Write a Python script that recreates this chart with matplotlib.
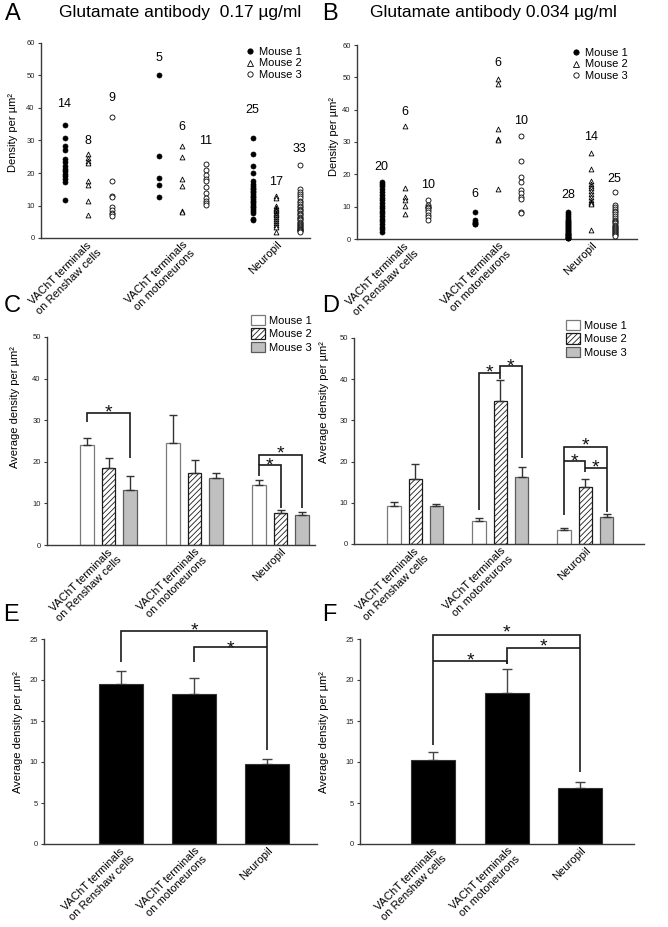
import matplotlib
matplotlib.use('Agg')
import matplotlib.pyplot as plt
from matplotlib.patches import Patch
from matplotlib.lines import Line2D

plt.rcParams['font.family'] = ['Liberation Sans', 'DejaVu Sans']
plt.rcParams['hatch.linewidth'] = 0.6

W, H = 668, 927
fig = plt.figure(figsize=(W / 100, H / 100), dpi=100)

# ---------------- data ----------------
categories = ["VAChT terminals\non Renshaw cells", "VAChT terminals\non motoneurons", "Neuropil"]
mice = ["Mouse 1", "Mouse 2", "Mouse 3"]

# Panel A: individual densities (0.17 ug/ml), per group
a_mouse1 = [
    [34.8, 30.8, 28.3, 27.2, 24.3, 23.5, 22.0, 21.2, 20.5, 19.8, 19.0, 18.2, 17.3, 11.8],
    [50.0, 25.3, 18.5, 16.4, 12.5],
    [30.7, 25.9, 22.3, 20.0, 17.6, 16.6, 16.0, 15.5, 15.0, 14.5, 14.0, 13.5, 13.0, 12.5,
     12.0, 11.5, 11.0, 10.5, 10.0, 9.5, 9.0, 8.3, 7.8, 6.0, 5.5],
]
a_mouse2 = [
    [25.7, 24.6, 23.8, 23.2, 17.6, 16.3, 11.3, 7.0],
    [28.3, 24.8, 18.0, 16.0, 8.4, 8.0],
    [13.0, 12.3, 9.8, 9.3, 9.0, 8.5, 8.2, 7.8, 7.4, 7.0, 6.5, 6.0, 5.3, 4.5, 4.0, 3.5, 1.7],
]
a_mouse3 = [
    [37.3, 17.4, 13.0, 12.5, 9.5, 8.6, 7.8, 7.3, 6.8],
    [22.7, 20.8, 19.5, 18.3, 17.5, 15.7, 13.8, 12.3, 11.5, 10.9, 10.3],
    [22.6, 15.0, 14.2, 13.5, 12.8, 12.2, 11.5, 11.0, 10.5, 10.0, 9.5, 9.0, 8.6, 8.2, 7.8,
     7.4, 7.0, 6.6, 6.2, 5.8, 5.4, 5.0, 4.6, 4.2, 3.9, 3.6, 3.3, 3.0, 2.8, 2.6, 2.4, 2.2, 2.0],
]
a_count_y = [[41.2, 55.4, 39.4], [30.0, 34.0, 17.3], [43.0, 30.0, 27.4]]

# Panel B: individual densities (0.034 ug/ml)
b_mouse1 = [
    [17.5, 17.0, 16.3, 15.5, 14.5, 13.6, 12.8, 12.0, 11.0, 10.2, 9.5, 8.7, 7.9, 7.1, 6.3,
     5.5, 4.7, 3.8, 3.0, 2.3],
    [8.5, 5.8, 5.3, 5.0, 4.7, 4.5],
    [8.5, 7.8, 7.0, 6.5, 6.0, 5.6, 5.2, 4.8, 4.5, 4.2, 3.9, 3.6, 3.3, 3.0, 2.7, 2.4, 2.1,
     1.9, 1.7, 1.5, 1.3, 1.1, 0.9, 0.7, 0.5, 0.4, 0.3, 0.2],
]
b_mouse2 = [
    [34.8, 15.7, 13.0, 12.2, 10.2, 7.8],
    [49.5, 47.8, 34.0, 31.0, 30.6, 15.5],
    [26.7, 21.5, 18.0, 17.0, 16.5, 15.8, 15.0, 14.0, 13.0, 12.0, 11.5, 11.2, 10.8, 2.8],
]
b_mouse3 = [
    [12.0, 10.5, 10.0, 9.8, 9.5, 9.0, 8.5, 7.3, 6.7, 5.8],
    [31.8, 24.2, 19.3, 17.5, 15.2, 14.3, 13.0, 12.5, 8.5, 8.0],
    [14.4, 10.5, 9.8, 9.3, 8.8, 8.2, 7.6, 7.0, 6.5, 6.0, 5.6, 5.2, 4.8, 4.4, 4.0, 3.6,
     3.3, 3.0, 2.7, 2.4, 2.1, 1.8, 1.5, 1.2, 1.0],
]
b_count_y = [[22.3, 14.0, 13.7], [39.2, 54.4, 31.4], [16.7, 36.4, 18.6]]

# Panel C: mean and SEM per mouse (0.17 ug/ml)
c_means = [[24.0, 24.6, 14.4], [18.6, 17.2, 7.7], [13.3, 16.1, 7.2]]
c_sem = [[1.7, 6.7, 1.3], [2.4, 3.3, 0.7], [3.2, 1.2, 0.7]]

# Panel D: mean and SEM per mouse (0.034 ug/ml)
d_means = [[9.2, 5.6, 3.5], [15.7, 34.7, 13.9], [9.2, 16.3, 6.6]]
d_sem = [[0.9, 0.6, 0.5], [3.8, 5.1, 1.8], [0.6, 2.3, 0.8]]

# Panels E, F: pooled means and SEM
e_means = [19.56, 18.35, 9.7]
e_sem = [1.55, 1.85, 0.65]
f_means = [10.24, 18.37, 6.83]
f_sem = [0.95, 2.95, 0.7]

# significance brackets: (x1, x2, top, left_end, right_end, star_y)
c_brackets = [(-0.25, 0.25, 31.8, 29.5, 21.0, 33.2),
              (1.75, 2.0, 19.2, 16.5, 9.0, 20.4),
              (1.75, 2.25, 21.6, 19.2, 9.0, 23.4)]
d_brackets = [(0.75, 1.0, 41.6, 8.2, 40.0, 43.0),
              (1.0, 1.25, 43.2, 41.6, 20.9, 44.4),
              (1.75, 2.25, 23.6, 7.0, 7.8, 25.2),
              (1.75, 2.0, 20.1, 20.1, 17.5, 21.4),
              (2.0, 2.25, 18.5, 18.5, 18.5, 19.9)]
e_brackets = [(0, 2, 26.0, 22.2, 11.5, 26.7),
              (1, 2, 24.0, 22.2, 24.0, 24.6)]
f_brackets = [(0, 2, 25.5, 12.1, 8.8, 26.5),
              (0, 1, 22.3, 22.3, 22.0, 23.1),
              (1, 2, 23.9, 22.0, 23.9, 24.8)]

# ---------------- helpers ----------------
SPINE = '#3a3a3a'


def add_ax(x0, y0, x1, y1):
    return fig.add_axes([x0 / W, 1 - y1 / H, (x1 - x0) / W, (y1 - y0) / H])


def style(ax, ymax, step, xlim):
    for s in ['top', 'right']:
        ax.spines[s].set_visible(False)
    for s in ['left', 'bottom']:
        ax.spines[s].set_color(SPINE)
        ax.spines[s].set_linewidth(1.0)
    ax.set_xlim(*xlim)
    ax.set_ylim(0, ymax)
    ax.set_yticks(list(range(0, ymax + 1, step)))
    ax.tick_params(axis='y', labelsize=5.5, length=2.5, width=0.8, pad=2,
                   colors=SPINE, labelcolor='#222222')
    ax.set_xticks([0, 1, 2])
    ax.set_xticklabels(categories, rotation=45, ha='right', va='top',
                       rotation_mode='anchor', fontsize=8, multialignment='center')
    ax.tick_params(axis='x', length=0, pad=1)


def ylabel(ax, text, xpx, ypx, axbox):
    x0, y0, x1, y1 = axbox
    ax.set_ylabel(text, fontsize=8)
    ax.yaxis.set_label_coords((xpx - x0) / (x1 - x0), (y1 - ypx) / (y1 - y0))


def letter(txt, xpx, ypx):
    fig.text(xpx / W, 1 - ypx / H, txt, fontsize=17, ha='center', va='center')


def star(ax, x, y, fs=14):
    ax.annotate('*', (x, y), xytext=(0, -0.55 * fs), textcoords='offset points',
                ha='center', va='baseline', fontsize=fs, color='#111111',
                annotation_clip=False)


def brackets(ax, blist):
    for x1, x2, top, yl, yr, sy in blist:
        ax.plot([x1, x1, x2, x2], [yl, top, top, yr], color='#1a1a1a', lw=1.2,
                solid_joinstyle='miter', solid_capstyle='butt', clip_on=False)
        star(ax, (x1 + x2) / 2, sy)


# ---------------- panels A, B: scatter ----------------
def scatter_panel(box, xlim, m1, m2, m3, county, title, title_x, lg_xy, ylab_xy):
    ax = add_ax(*box)
    style(ax, 60, 10, xlim)
    offs = [-0.25, 0.0, 0.25]
    kws = [dict(marker='o', s=13, facecolor='black', edgecolor='black', linewidths=0.5),
           dict(marker='^', s=12, facecolor='white', edgecolor='black', linewidths=0.6),
           dict(marker='o', s=13, facecolor='white', edgecolor='black', linewidths=0.6)]
    for mi, series in enumerate([m1, m2, m3]):
        for g, vals in enumerate(series):
            ax.scatter([g + offs[mi]] * len(vals), vals, zorder=3, clip_on=False, **kws[mi])
            ax.text(g + offs[mi], county[mi][g], str(len(vals)), ha='center', va='center',
                    fontsize=9)
    handles = [Line2D([], [], ls='none', markersize=3.8, markeredgewidth=0.6,
                      markeredgecolor='black', **k) for k in
               [dict(marker='o', markerfacecolor='black'),
                dict(marker='^', markerfacecolor='white'),
                dict(marker='o', markerfacecolor='white')]]
    ax.legend(handles, mice, loc='upper left', bbox_to_anchor=(lg_xy[0] / W, 1 - lg_xy[1] / H),
              bbox_transform=fig.transFigure, frameon=False, fontsize=8,
              handlelength=0.7, handletextpad=0.45, labelspacing=0.13, borderpad=0,
              borderaxespad=0)
    ylabel(ax, 'Density per µm²', ylab_xy[0], ylab_xy[1], box)
    fig.text(title_x / W, 1 - 13 / H, title, fontsize=12.5, ha='center', va='center')
    return ax


scatter_panel((41, 43, 310, 238), (-0.5, 2.36), a_mouse1, a_mouse2, a_mouse3, a_count_y,
              'Glutamate antibody  0.17 µg/ml', 180, (246, 47), (18, 133))
scatter_panel((357, 45, 637, 239), (-0.516, 2.49), b_mouse1, b_mouse2, b_mouse3, b_count_y,
              'Glutamate antibody 0.034 µg/ml', 493, (572, 48), (339, 137))


# ---------------- panels C, D: grouped bars ----------------
bar_styles = [dict(facecolor='white', edgecolor='#7a7a7a', hatch=None),
              dict(facecolor='white', edgecolor='#1a1a1a', hatch='//////'),
              dict(facecolor='#c0c0c0', edgecolor='#5a5a5a', hatch=None)]


def grouped_panel(box, xlim, means, sems, blist, lg_xy, ylab_xy):
    ax = add_ax(*box)
    style(ax, 50, 10, xlim)
    offs = [-0.25, 0.0, 0.25]
    for mi in range(3):
        xs = [g + offs[mi] for g in range(3)]
        ax.bar(xs, means[mi], width=0.158, linewidth=0.9, zorder=2, **bar_styles[mi])
        ax.errorbar(xs, means[mi], yerr=[[0] * 3, sems[mi]], fmt='none', ecolor='#333333',
                    elinewidth=1.0, capsize=3, capthick=1.0, zorder=3)
    brackets(ax, blist)
    handles = [Patch(linewidth=0.9, **s) for s in bar_styles]
    ax.legend(handles, mice, loc='upper left', bbox_to_anchor=(lg_xy[0] / W, 1 - lg_xy[1] / H),
              bbox_transform=fig.transFigure, frameon=False, fontsize=8,
              handlelength=1.25, handleheight=1.05, handletextpad=0.35, labelspacing=0.22,
              borderpad=0, borderaxespad=0)
    ylabel(ax, 'Average density per µm²', ylab_xy[0], ylab_xy[1], box)
    return ax


grouped_panel((47, 337, 315, 545), (-0.715, 2.40), c_means, c_sem, c_brackets,
              (251, 315), (20, 407))
grouped_panel((354, 338, 644, 544), (-0.72, 2.69), d_means, d_sem, d_brackets,
              (566, 320), (329, 402))


# ---------------- panels E, F: pooled bars ----------------
def pooled_panel(box, xlim, means, sems, blist, ylab_xy):
    ax = add_ax(*box)
    style(ax, 25, 5, xlim)
    xs = [0, 1, 2]
    ax.bar(xs, means, width=0.6, color='black', edgecolor='#333333', linewidth=0.8, zorder=2)
    ax.errorbar(xs, means, yerr=[[0] * 3, sems], fmt='none', ecolor='#444444',
                elinewidth=1.0, capsize=3.5, capthick=1.0, zorder=1)
    brackets(ax, blist)
    ylabel(ax, 'Average density per µm²', ylab_xy[0], ylab_xy[1], box)
    return ax


pooled_panel((44, 639, 317, 844), (-1.05, 2.68), e_means, e_sem, e_brackets, (23, 732))
pooled_panel((360, 639, 634, 844), (-1.0, 2.73), f_means, f_sem, f_brackets, (329, 732))

# panel letters
letter('A', 13, 14)
letter('B', 330, 14)
letter('C', 12, 306)
letter('D', 331, 306)
letter('E', 11, 615)
letter('F', 329, 615)

fig.savefig('out.png', dpi=100)
